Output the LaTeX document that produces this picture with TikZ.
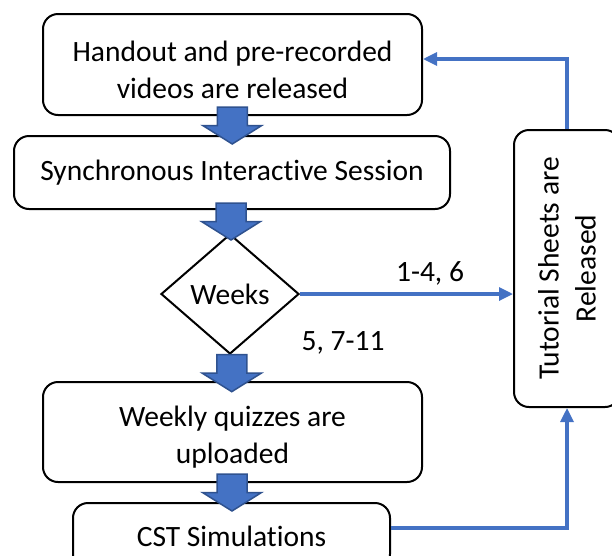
\documentclass[tikz,border=0pt]{standalone}
\usepackage{fontspec}
\setmainfont{Carlito}[Ligatures=NoCommon]
\usetikzlibrary{calc,positioning,shapes.geometric,arrows.meta}
\definecolor{linkblue}{HTML}{4472C4}
\definecolor{arrowedge}{HTML}{2F528F}
\newcommand{\blockdown}[1]{%
	\draw[blockarrow] ($(#1)+(-15,-18.5)$) -- ($(#1)+(15,-18.5)$) -- ($(#1)+(15,0)$) -- ($(#1)+(29.5,0)$) -- ($(#1)+(0,18.5)$) -- ($(#1)+(-29.5,0)$) -- ($(#1)+(-15,0)$) -- cycle;}

\begin{document}
\begin{tikzpicture}[x=1pt, y=-1pt, font=\fontsize{29.5}{37}\selectfont,
	stepbox/.style={draw, line width=2pt, rounded corners=15pt, align=center, inner sep=0pt},
	decision/.style={draw, diamond, line width=2pt, inner sep=0pt},
	link/.style={draw=linkblue, line width=3.2pt, -{Triangle[length=14pt,width=13pt]}},
	blockarrow/.style={fill=linkblue, draw=arrowedge, line width=1.5pt, line join=miter}]
	\useasboundingbox (0,0) rectangle (612,555);
	\clip (0,0) rectangle (612,555);

	\node [stepbox, minimum width=379, minimum height=101] (handout) at (232.5,64.5) {};
	\node [align=center] (handouttext) at ($(handout.center)+(0,5)$) {Handout and pre-recorded\\videos are released};
	\node [stepbox, minimum width=436, minimum height=73] (session) at (232,172.5) {Synchronous Interactive Session};
	\node [decision, minimum width=138, minimum height=120] (weeks) at (230,294) {Weeks};
	\node [stepbox, minimum width=379, minimum height=100] (quiz) at (232.5,432) {};
	\node [align=center] (quiztext) at ($(quiz.center)+(0,5)$) {Weekly quizzes are\\uploaded};
	\node [stepbox, minimum width=317, minimum height=66] (cst) at (231.5,536) {CST Simulations};
	\node [stepbox, minimum width=106, minimum height=277] (tutorial) at (567,268.5) {};
	\node [rotate=90, align=center] (tutorialtext) at (tutorial.center) {Tutorial Sheets are\\Released};

	% Week labels on the branches
	\node (wkA) at (430,273) {1-4, 6};
	\node (wkB) at (343,343) {5, 7-11};

	% Block arrows down the main column
	\path (handout.south) -- (session.north) coordinate[midway] (b1);
	\path (session.south) -- (weeks.north) coordinate[midway] (b2);
	\path (weeks.south) -- (quiz.north) coordinate[pos=0.7] (b3);
	\path (quiz.south) -- (cst.north) coordinate[midway] (b4);
	\blockdown{b1}
	\blockdown{b2}
	\blockdown{b3}
	\blockdown{b4}

	% Blue links to and from the tutorial sheets
	\draw[link] (tutorial.north) |- ($(handout.east)+(0,-5.5)$);
	\draw[link] (weeks.east) -- (weeks.east -| tutorial.west);
	\draw[link] ($(cst.east)+(0,-8)$) -| (tutorial.south);
\end{tikzpicture}
\end{document}
